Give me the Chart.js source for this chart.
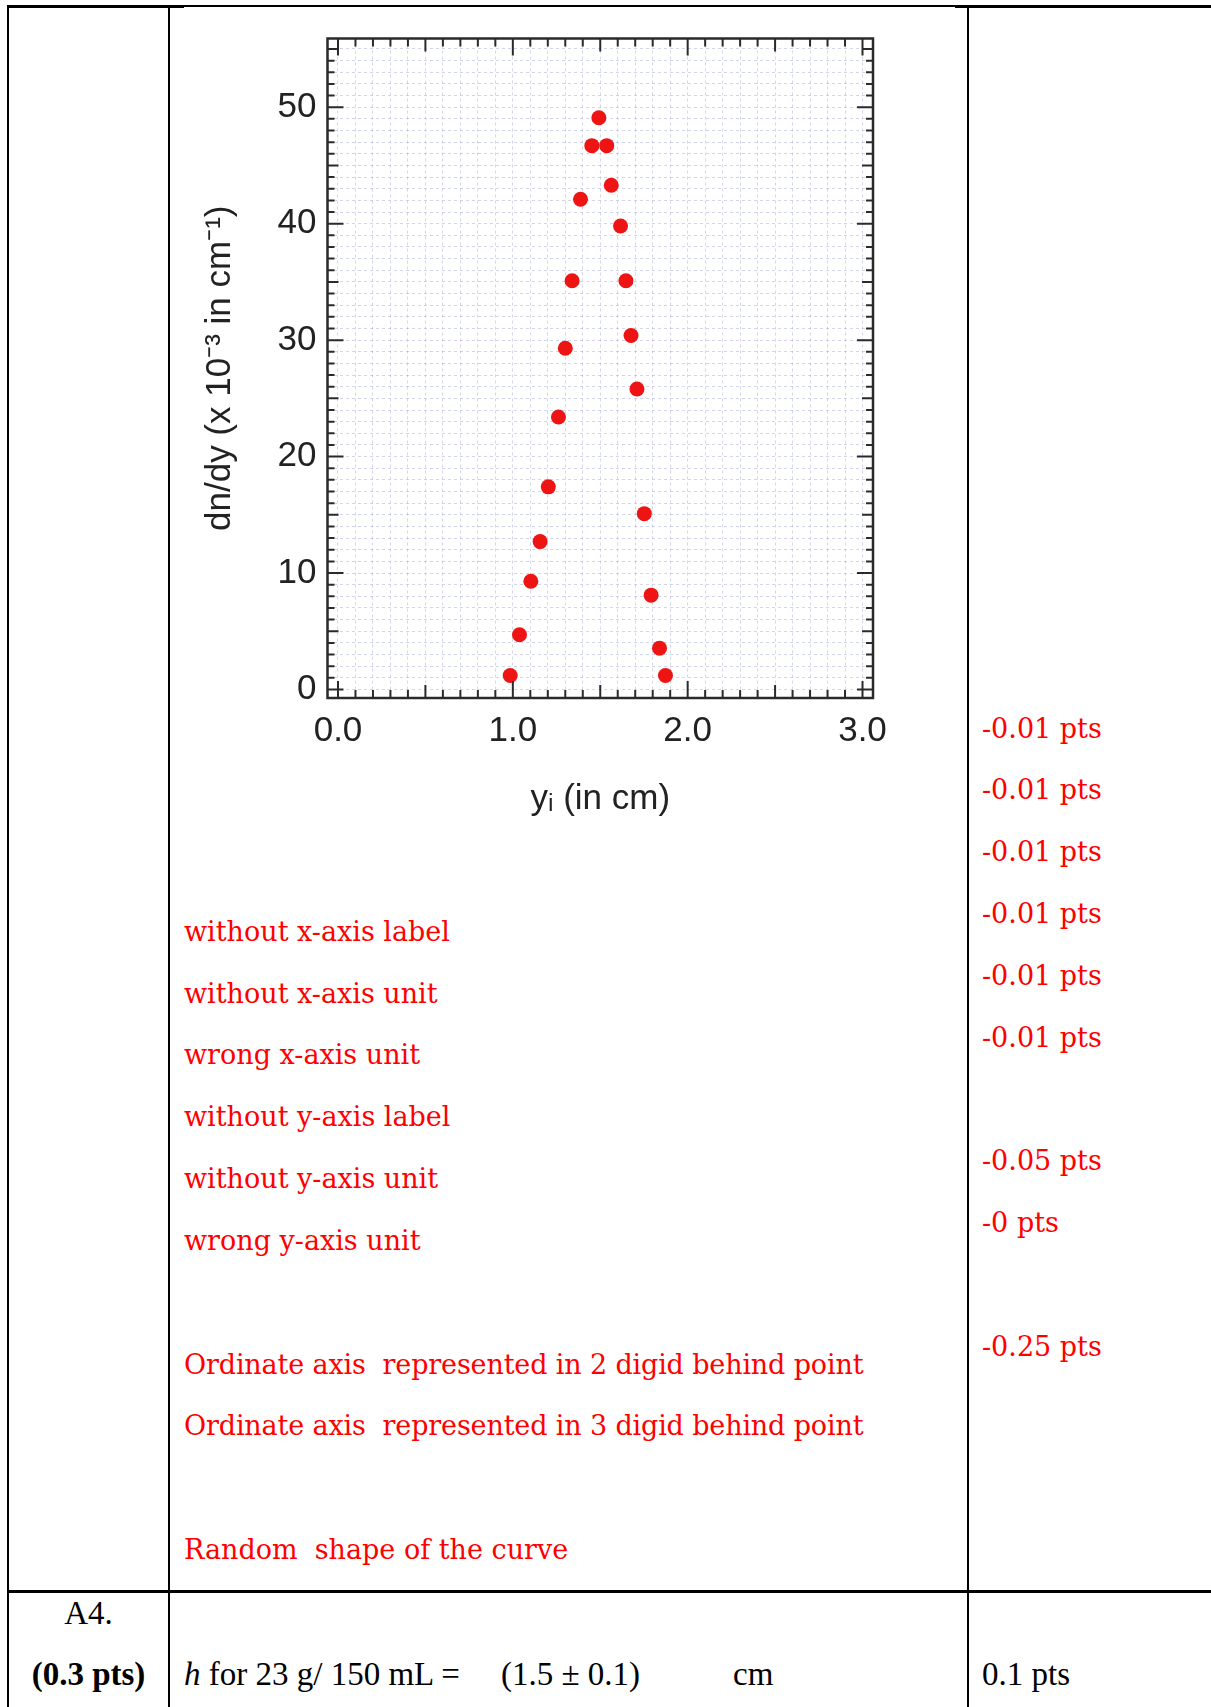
<!DOCTYPE html>
<html>
<head>
<meta charset="utf-8">
<script src="https://cdn.jsdelivr.net/npm/chart.js@4.4.1/dist/chart.umd.min.js"></script>
<style>
html, body { margin: 0; padding: 0; background: #fff; }
body { width: 1211px; height: 1707px; position: relative; overflow: hidden; }
.ln { position: absolute; background: #000; }
.red { position: absolute; color: #f00; font: 27px "DejaVu Serif", serif; line-height: 40px; white-space: pre; }
.red.long { letter-spacing: -0.15px; }
.blk { position: absolute; color: #000; font: 33px "Liberation Serif", serif; line-height: 40px; white-space: pre; }
#wrap { position: absolute; left: 170px; top: 8px; width: 796px; height: 830px; }
</style>
</head>
<body>
<!-- table rules -->
<div class="ln" style="left:7px;top:5px;width:177px;height:3px"></div>
<div class="ln" style="left:184px;top:5px;width:771px;height:2px"></div>
<div class="ln" style="left:955px;top:5px;width:256px;height:3px"></div>
<div class="ln" style="left:7px;top:5px;width:2px;height:1702px"></div>
<div class="ln" style="left:168px;top:5px;width:2px;height:1702px"></div>
<div class="ln" style="left:967px;top:5px;width:2px;height:1702px"></div>
<div class="ln" style="left:7px;top:1590px;width:1204px;height:3px"></div>

<div id="wrap"><canvas id="chart" width="796" height="830"></canvas></div>

<!-- marking notes -->
<div class="red" style="left:184px;top:912px">without x-axis label</div>
<div class="red" style="left:184px;top:974px">without x-axis unit</div>
<div class="red" style="left:184px;top:1035px">wrong x-axis unit</div>
<div class="red" style="left:184px;top:1097px">without y-axis label</div>
<div class="red" style="left:184px;top:1159px">without y-axis unit</div>
<div class="red" style="left:184px;top:1221px">wrong y-axis unit</div>
<div class="red long" style="left:184px;top:1345px">Ordinate axis  represented in 2 digid behind point</div>
<div class="red long" style="left:184px;top:1406px">Ordinate axis  represented in 3 digid behind point</div>
<div class="red" style="left:184px;top:1530px">Random  shape of the curve</div>

<div class="red" style="left:982px;top:709px">-0.01 pts</div>
<div class="red" style="left:982px;top:770px">-0.01 pts</div>
<div class="red" style="left:982px;top:832px">-0.01 pts</div>
<div class="red" style="left:982px;top:894px">-0.01 pts</div>
<div class="red" style="left:982px;top:956px">-0.01 pts</div>
<div class="red" style="left:982px;top:1018px">-0.01 pts</div>
<div class="red" style="left:982px;top:1141px">-0.05 pts</div>
<div class="red" style="left:982px;top:1203px">-0 pts</div>
<div class="red" style="left:982px;top:1327px">-0.25 pts</div>

<div class="blk" style="left:9px;width:159px;text-align:center;top:1593px">A4.</div>
<div class="blk" style="left:9px;width:159px;text-align:center;top:1654px;font-weight:bold">(0.3 pts)</div>
<div class="blk" style="left:184px;top:1654px"><i>h</i> for 23 g/ 150 mL =</div>
<div class="blk" style="left:501px;top:1654px">(1.5 ± 0.1)</div>
<div class="blk" style="left:733px;top:1654px">cm</div>
<div class="blk" style="left:982px;top:1654px">0.1 pts</div>

<script>
// dn/dy values
const yiValues = [0.985, 1.038, 1.103, 1.156, 1.203, 1.261, 1.300, 1.339, 1.387, 1.452, 1.492,
                  1.537, 1.563, 1.616, 1.647, 1.676, 1.710, 1.752, 1.791, 1.839, 1.873];
const dndyValues = [1.2, 4.7, 9.3, 12.7, 17.4, 23.4, 29.3, 35.1, 42.1, 46.7, 49.1,
                    46.7, 43.3, 39.8, 35.1, 30.4, 25.8, 15.1, 8.1, 3.55, 1.2];

const xLabelValues = [0, 1, 2, 3];
const yLabelValues = [0, 10, 20, 30, 40, 50];

const xTitle = 'yᵢ (in cm)';
const yTitle = 'dn/dy (x 10⁻³ in cm⁻¹)';

const axisFont = { family: "'Liberation Sans', Arial, sans-serif", size: 35 };
const gridColor = 'rgba(150, 155, 205, 0.42)';

// inward tick marks on all four sides plus the frame
const frameTicks = {
    id: 'frameTicks',
    afterDraw(chart) {
        const { ctx, chartArea: a, scales: { x, y } } = chart;
        ctx.save();
        ctx.strokeStyle = '#2a2a2a';
        ctx.lineWidth = 2;
        ctx.beginPath();
        x.ticks.forEach(t => {
            const px = x.getPixelForValue(t.value);
            const k = Math.round(t.value * 10);
            const len = k % 10 === 0 ? 17 : (k % 5 === 0 ? 13 : 8);
            ctx.moveTo(px, a.bottom); ctx.lineTo(px, a.bottom - len);
            ctx.moveTo(px, a.top); ctx.lineTo(px, a.top + len);
        });
        y.ticks.forEach(t => {
            const py = y.getPixelForValue(t.value);
            const k = Math.round(t.value);
            const len = k % 10 === 0 ? 16 : (k % 5 === 0 ? 11 : 7);
            ctx.moveTo(a.left, py); ctx.lineTo(a.left + len, py);
            ctx.moveTo(a.right, py); ctx.lineTo(a.right - len, py);
        });
        ctx.stroke();
        ctx.lineWidth = 2.5;
        ctx.strokeRect(a.left, a.top, a.right - a.left, a.bottom - a.top);
        ctx.restore();
    }
};

new Chart(document.getElementById('chart'), {
    type: 'scatter',
    data: {
        datasets: [{
            data: yiValues.map((v, i) => ({ x: v, y: dndyValues[i] })),
            backgroundColor: '#ee1414',
            borderWidth: 0,
            pointRadius: 7.5,
            pointHoverRadius: 7.5
        }]
    },
    options: {
        responsive: false,
        animation: false,
        layout: { padding: { left: 0, right: 93, top: 30.5, bottom: 0 } },
        plugins: { legend: { display: false }, tooltip: { enabled: false } },
        scales: {
            x: {
                type: 'linear',
                min: -0.06,
                max: 3.06,
                afterBuildTicks: s => {
                    const ticks = [];
                    for (let i = 0; i <= 30; i++) ticks.push({ value: i / 10 });
                    s.ticks = ticks;
                },
                afterFit: s => { s.height = 140; s.paddingLeft = 0; s.paddingRight = 0; },
                ticks: {
                    autoSkip: false, maxRotation: 0, minRotation: 0,
                    padding: 12, color: '#222', font: axisFont,
                    callback: v => xLabelValues.includes(v) ? v.toFixed(1) : ''
                },
                grid: { color: gridColor, lineWidth: 1, drawTicks: false },
                border: { display: false, dash: [3, 3] },
                title: { display: true, text: xTitle, color: '#222', font: axisFont, padding: { top: 0, bottom: 18 } }
            },
            y: {
                type: 'linear',
                min: -0.73,
                max: 55.9,
                afterBuildTicks: s => {
                    const ticks = [];
                    for (let i = 0; i <= 55; i++) ticks.push({ value: i });
                    s.ticks = ticks;
                },
                afterFit: s => { s.width = 157.5; s.paddingTop = 0; s.paddingBottom = 0; },
                ticks: {
                    autoSkip: false,
                    padding: 11, color: '#222', font: axisFont,
                    callback: v => yLabelValues.includes(v) ? String(v) : ''
                },
                grid: { color: gridColor, lineWidth: 1, drawTicks: false },
                border: { display: false, dash: [3, 3] },
                title: { display: true, text: yTitle, color: '#222', font: axisFont, padding: { top: 29, bottom: 0 } }
            }
        }
    },
    plugins: [frameTicks]
});
</script>
</body>
</html>
